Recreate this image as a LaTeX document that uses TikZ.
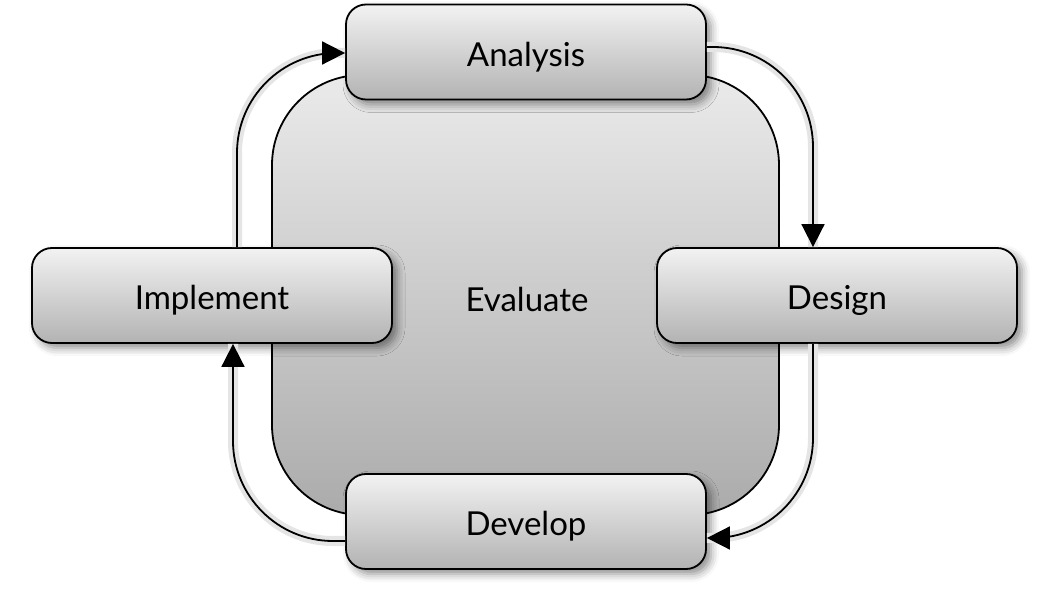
\documentclass[tikz,border=0pt]{standalone}
\usepackage{fontspec}
\setmainfont{Lato}
\usetikzlibrary{arrows.meta,shadows.blur}
\begin{document}
\begin{tikzpicture}[x=1pt,y=-1pt,
  stagebox/.style={draw=black, line width=1.8pt, rounded corners=20pt,
    minimum width=360pt, minimum height=95pt, top color=white!95!black,
    bottom color=black!30, font=\fontsize{33}{38}\selectfont,
    text height=36pt, text depth=7pt,
    blur shadow={shadow xshift=5pt, shadow yshift=-5pt, shadow blur radius=8pt, shadow opacity=45}},
  evalbox/.style={draw=black, line width=1.8pt, rounded corners=90pt,
    minimum width=507pt, minimum height=440pt, top color=white!92!black,
    bottom color=black!33},
  flow/.style={draw=black, line width=1.8pt, rounded corners=100pt,
    -{Triangle[length=23pt,width=23pt]},
    preaction={draw=black!10, line width=10pt, -}},
]
\useasboundingbox (0,0) rectangle (1061,593);
\node[evalbox] (E) at (525.5,295) {};
\node at (527,299) [font=\fontsize{33}{38}\selectfont] (Et) {Evaluate};
\node[stagebox] (A) at (526,52) {Analysis};
\node[stagebox] (D) at (837,295.5) {Design};
\node[stagebox] (V) at (526,521.5) {Develop};
\node[stagebox] (I) at (212,295.5) {Implement};
\draw[flow] ([yshift=5pt]A.east) -| ([xshift=-24pt]D.north);
\draw[flow] ([xshift=-24pt]D.south) |- ([yshift=-16.5pt]V.east);
\draw[flow] ([yshift=-19.5pt]V.west) -| ([xshift=21pt]I.south);
\draw[flow] ([xshift=25pt]I.north) |- ([yshift=-1pt]A.west);
\end{tikzpicture}
\end{document}
